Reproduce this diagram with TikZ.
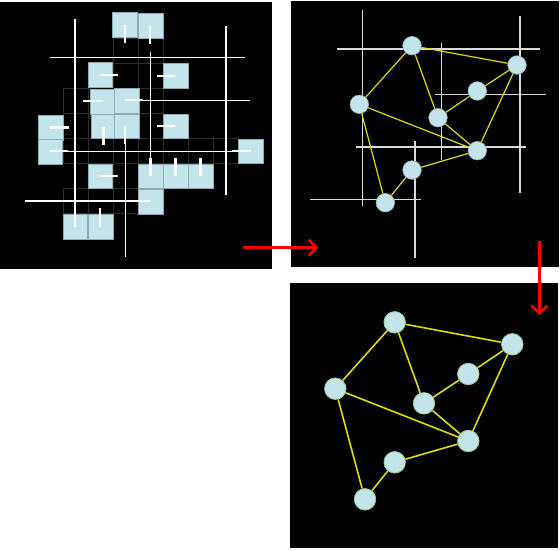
\documentclass[tikz,border=0pt]{standalone}
\usetikzlibrary{arrows.meta}
\definecolor{sqfill}{HTML}{C2E4EA}
\definecolor{sqedge}{HTML}{8FAAB0}
\definecolor{cellgray}{HTML}{2E2E2E}
\definecolor{gridw}{HTML}{DADADA}
\definecolor{edgey}{HTML}{DDDD00}
\definecolor{greenedge}{HTML}{9ACD9A}
\definecolor{arrred}{HTML}{FF0000}
\tikzset{
  panel/.style={fill=black, draw=none},
  sq/.style={fill=sqfill, draw=sqedge, line width=0.6pt},
  cell/.style={draw=cellgray, line width=0.6pt},
  longln/.style={draw=white, line width=1.4pt},
  tick/.style={draw=white, line width=2.6pt},
  gline/.style={draw=gridw, line width=1.4pt},
  vtx/.style={circle, fill=sqfill, draw=sqedge, line width=0.6pt, minimum size=18.6pt, inner sep=0pt},
  vtxb/.style={circle, fill=sqfill, draw=greenedge, line width=0.8pt, minimum size=21.5pt, inner sep=0pt},
  yedge/.style={draw=edgey, line width=1.2pt},
  yedgeb/.style={draw=edgey, line width=1.6pt},
  redarrow/.style={draw=arrred, line width=2.6pt, -{Straight Barb[length=7.5pt,width=16pt]}}
}
\begin{document}
\begin{tikzpicture}[x=1pt,y=-1pt]
\useasboundingbox[fill=white] (0,0) rectangle (560,550);
% panels
\fill[panel] (0,2) rectangle (272,269);
\fill[panel] (291,1) rectangle (559,267);
\fill[panel] (290,283) rectangle (558,548);

% ---------- panel 1 ----------
\foreach \c/\r in {3/1,4/1,3/2,4/2,1/3,4/3,1/4,4/4,1/5,2/5,3/5,4/5,5/5,6/5,7/5,3/6,1/7,2/7,3/7}
  \draw[cell] ({38+25*\c},{13+25*\r}) rectangle ++(25,25);
% long lines
\draw[longln] (75,19) -- (75,227);
\draw[longln] (226,26) -- (226,195);
\draw[longln] (150.7,52) -- (150.7,176);
\draw[longln] (125.7,140) -- (125.7,257);
\draw[longln] (50,57.3) -- (245,57.3);
\draw[longln] (125,100.7) -- (250,100.7);
\draw[longln] (50,151.7) -- (250,151.7);
\draw[longln] (25,201) -- (150,201);
% squares
\foreach \x/\y in {125/25,150.5/25.8,100.2/75,175.5/76,102.5/101.7,127/101,50.8/128,103.8/126.2,127/126.2,175.5/126.2,50.2/151.7,250.8/151.3,100.2/176.2,150.8/176.2,175.8/176.2,200.8/176.2,150.5/201.5,75.3/226.5,100.5/226.5}
  \draw[sq] ({\x-12.3},{\y-12.3}) rectangle ++(24.6,24.6);
% ticks
\draw[tick] (125,25) -- (125,43.3);
\draw[tick] (150,26) -- (150,44);
\draw[tick] (100,75) -- (118.3,75);
\draw[tick] (156.7,76) -- (175,76);
\draw[tick] (82.7,101) -- (101.7,101);
\draw[tick] (125,100) -- (143.3,100);
\draw[tick] (50,127.7) -- (69,127.7);
\draw[tick] (103.3,126.7) -- (103.3,145);
\draw[tick] (125,126) -- (125,144);
\draw[tick] (156.7,126) -- (175,126);
\draw[tick] (50,151) -- (68.3,151);
\draw[tick] (232.3,151) -- (250.7,151);
\draw[tick] (100,176) -- (118.3,176);
\draw[tick] (150.7,158.3) -- (150.7,176);
\draw[tick] (175.7,158.3) -- (175.7,176);
\draw[tick] (200.7,158.3) -- (200.7,176);
\draw[tick] (131.7,201) -- (150,201);
\draw[tick] (75,208.3) -- (75,226.7);
\draw[tick] (100,208.3) -- (100,226.7);

% ---------- panel 2 ----------
\draw[gline] (362.7,10) -- (362.7,205.7);
\draw[gline] (520,16) -- (520,192.7);
\draw[gline] (441.3,42.7) -- (441.3,160);
\draw[gline] (415,140.7) -- (415,258);
\draw[gline] (337,49) -- (539.7,49);
\draw[gline] (435.3,94.7) -- (546.3,94.7);
\draw[gline] (356.3,147) -- (526.3,147);
\draw[gline] (310.3,199.7) -- (421.3,199.7);
\node[vtx] (a1) at (412,45.7) {};
\node[vtx] (b1) at (517,65) {};
\node[vtx] (c1) at (477.3,91) {};
\node[vtx] (d1) at (359.3,104.3) {};
\node[vtx] (e1) at (438,117.7) {};
\node[vtx] (f1) at (477.3,150.7) {};
\node[vtx] (g1) at (412,170) {};
\node[vtx] (h1) at (385.3,202.7) {};
\foreach \u/\v in {a1/b1,a1/d1,a1/e1,b1/c1,b1/f1,c1/e1,e1/f1,d1/f1,d1/h1,h1/g1,g1/f1}
  \draw[yedge] (\u) -- (\v);

% ---------- panel 3 ----------
\node[vtxb] (a2) at (394.7,322.3) {};
\node[vtxb] (b2) at (512.3,344.3) {};
\node[vtxb] (c2) at (468.3,374) {};
\node[vtxb] (d2) at (335.3,388.7) {};
\node[vtxb] (e2) at (424,403.3) {};
\node[vtxb] (f2) at (468.3,441) {};
\node[vtxb] (g2) at (394.7,462.3) {};
\node[vtxb] (h2) at (365,499.3) {};
\foreach \u/\v in {a2/b2,a2/d2,a2/e2,b2/c2,b2/f2,c2/e2,e2/f2,d2/f2,d2/h2,h2/g2,g2/f2}
  \draw[yedgeb] (\u) -- (\v);

% ---------- arrows ----------
\coordinate (r1s) at (243,247.7);
\coordinate (r1e) at (318,247.7);
\coordinate (r2s) at (539.5,241);
\coordinate (r2e) at (539.5,315);
\draw[redarrow] (r1s) -- (r1e);
\draw[redarrow] (r2s) -- (r2e);
\end{tikzpicture}
\end{document}
